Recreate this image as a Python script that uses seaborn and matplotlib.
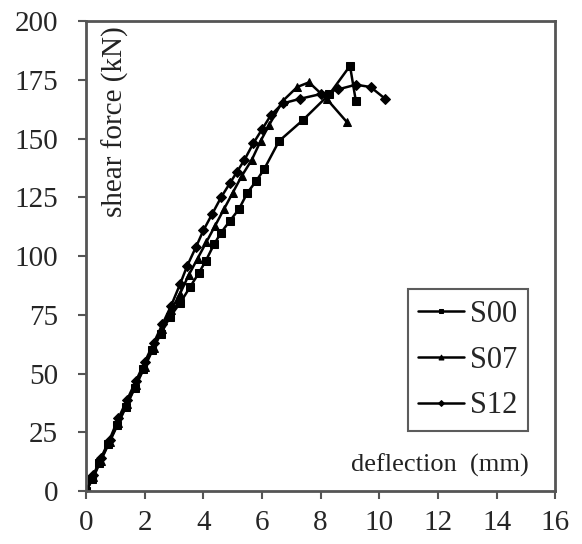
import matplotlib
matplotlib.use("Agg")
import matplotlib.pyplot as plt
import seaborn as sns

# Data
s00_x = [0, 0.2, 0.45, 0.75, 1.05, 1.35, 1.65, 1.95, 2.25, 2.55, 2.85, 3.2, 3.55, 3.85,
         4.08, 4.36, 4.6, 4.9, 5.21, 5.5, 5.8, 6.07, 6.58, 7.4, 8.3, 9.0, 9.2]
s00_f = [0, 5, 12, 20, 28, 36, 44, 52, 60, 67, 74, 80, 87, 93,
         98, 105, 110, 115, 120, 127, 132, 137, 149, 158, 169, 181, 166]

s07_x = [0, 0.25, 0.5, 0.8, 1.1, 1.4, 1.7, 2.0, 2.3, 2.6, 2.9, 3.2, 3.5, 3.8,
         4.1, 4.4, 4.7, 5.0, 5.3, 5.65, 5.95, 6.25, 6.7, 7.2, 7.6, 8.2, 8.9]
s07_f = [0, 6, 13, 21, 29, 37, 45, 53, 61, 69, 77, 84, 92, 99,
         106, 113, 120, 127, 134, 141, 149, 156, 166, 172, 174, 167, 157]

s12_x = [0, 0.25, 0.5, 0.8, 1.1, 1.4, 1.7, 2.0, 2.3, 2.6, 2.9, 3.2, 3.45, 3.75, 4.0,
         4.3, 4.6, 4.9, 5.15, 5.4, 5.7, 6.0, 6.3, 6.7, 7.3, 8.0, 8.6, 9.2, 9.7, 10.2]
s12_f = [0, 7, 14, 22, 31, 39, 47, 55, 63, 71, 79, 88, 96, 104, 111,
         118, 125, 131, 136, 141, 148, 154, 160, 165, 167, 169, 171, 173, 172, 167]

x_ticks = list(range(0, 17, 2))
y_ticks = list(range(0, 201, 25))

sns.set_style("ticks")
plt.rcParams["font.family"] = ["Liberation Serif", "DejaVu Serif"]

fig = plt.figure(figsize=(5.82, 5.44), dpi=100)
ax = fig.add_axes([0.148, 0.097, 0.806, 0.864])

series = [("S00", s00_x, s00_f, "s", 6),
          ("S07", s07_x, s07_f, "^", 6),
          ("S12", s12_x, s12_f, "D", 5)]
for name, xs, fs, mk, ms in series:
    sns.lineplot(x=xs, y=fs, ax=ax, color="black", marker=mk, markersize=ms,
                 markeredgecolor="black", linewidth=1.8, sort=False,
                 estimator=None, label=name)

ax.set_xlim(0, 16)
ax.set_ylim(0, 200)
ax.set_xticks(x_ticks)
ax.set_yticks(y_ticks)
ax.tick_params(labelsize=21, color="#555555", width=1.5, length=6, direction="out")
ax.tick_params(axis="y", pad=14)
ax.tick_params(axis="x", pad=7.5)
for sp in ax.spines.values():
    sp.set_visible(True)
    sp.set_color("#555555")
    sp.set_linewidth(2)
ax.set_xlabel("")
ax.set_ylabel("")

ax.text(0.062, 0.99, "shear force (kN)", transform=ax.transAxes, rotation=90,
        ha="center", va="top", fontsize=21, color="#222222")
ax.text(0.565, 0.055, "deflection  (mm)", transform=ax.transAxes,
        ha="left", va="center", fontsize=19, color="#222222")

leg = ax.legend(loc="upper right", bbox_to_anchor=(0.943, 0.43), fontsize=22,
                frameon=True, fancybox=False, handlelength=1.5, handletextpad=0.2,
                labelspacing=0.55, borderpad=0.35, borderaxespad=0, markerscale=0.6)
leg.get_frame().set_edgecolor("#333333")
leg.get_frame().set_linewidth(1.5)

fig.savefig("out.png", dpi=100)
